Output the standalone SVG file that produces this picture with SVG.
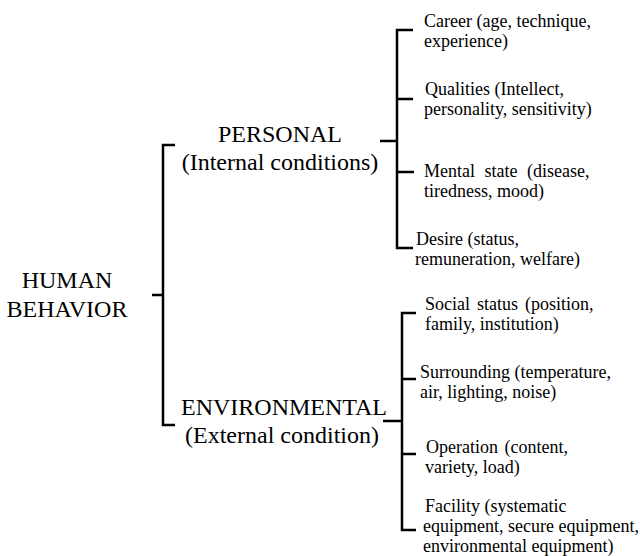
<svg xmlns="http://www.w3.org/2000/svg" width="640" height="556" viewBox="0 0 640 556">
<style>
text{font-family:"Liberation Serif","Times New Roman",serif;fill:#000}
.big{font-size:24px;text-anchor:middle}
.sm{font-size:18px}
.br{fill:none;stroke:#000;stroke-width:2.5;stroke-linecap:butt}
</style>
<rect width="640" height="556" fill="#fff"/>
<g id="connectors">
<path class="br" d="M175,145 H163 V425 H175 M152,295 H163"/>
<path class="br" d="M413,30 H397 V248 H413 M397,99 H413 M397,172 H414 M380,141 H397"/>
<path class="br" d="M416,313 H402 V530 H416 M402,379 H416 M402,454 H416 M383,421 H402"/>
</g>
<g id="human"><text class="big" x="67" y="288">HUMAN</text><text class="big" x="67" y="317">BEHAVIOR</text></g>
<g id="personal"><text class="big" x="280" y="142">PERSONAL</text><text class="big" x="280" y="170">(Internal conditions)</text></g>
<g id="environmental"><text class="big" x="284" y="415">ENVIRONMENTAL</text><text class="big" x="282" y="443">(External condition)</text></g>
<g id="career"><text class="sm" x="424" y="27">Career (age, technique,</text><text class="sm" x="424" y="47">experience)</text></g>
<g id="qualities"><text class="sm" x="425" y="95">Qualities (Intellect,</text><text class="sm" x="424" y="115">personality, sensitivity)</text></g>
<g id="mental"><text class="sm" x="424" y="177" word-spacing="5">Mental state (disease,</text><text class="sm" x="424" y="197">tiredness, mood)</text></g>
<g id="desire"><text class="sm" x="416" y="245">Desire (status,</text><text class="sm" x="415" y="265">remuneration, welfare)</text></g>
<g id="social"><text class="sm" x="425" y="310" word-spacing="2.5">Social status (position,</text><text class="sm" x="425" y="330">family, institution)</text></g>
<g id="surrounding"><text class="sm" x="420" y="378">Surrounding (temperature,</text><text class="sm" x="420" y="398">air, lighting, noise)</text></g>
<g id="operation"><text class="sm" x="426" y="453" word-spacing="2">Operation (content,</text><text class="sm" x="425" y="473">variety, load)</text></g>
<g id="facility"><text class="sm" x="425" y="512">Facility (systematic</text><text class="sm" x="423" y="532">equipment, secure equipment,</text><text class="sm" x="423" y="552">environmental equipment)</text></g>
</svg>
